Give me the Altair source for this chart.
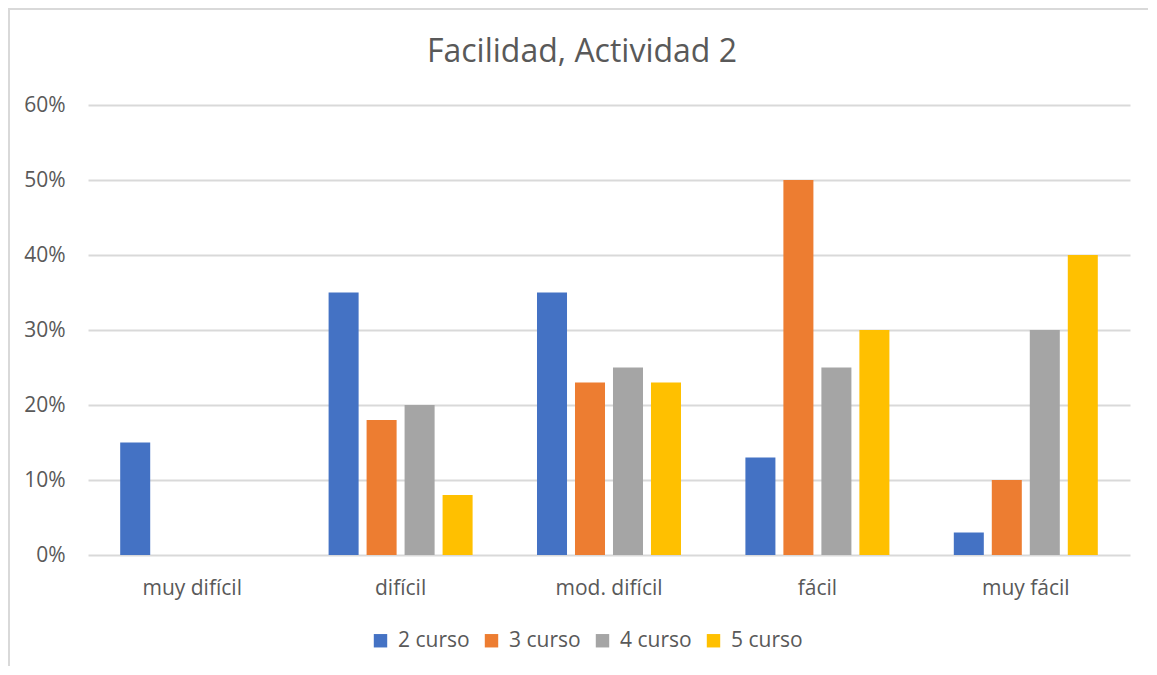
import altair as alt
import pandas as pd

categorias = ["muy difícil", "difícil", "mod. difícil", "fácil", "muy fácil"]
series = ["2 curso", "3 curso", "4 curso", "5 curso"]
v_2curso = [0.15, 0.35, 0.35, 0.13, 0.03]
v_3curso = [0.00, 0.18, 0.23, 0.50, 0.10]
v_4curso = [0.00, 0.20, 0.25, 0.25, 0.30]
v_5curso = [0.00, 0.08, 0.23, 0.30, 0.40]
colores = ["#4472C4", "#ED7D31", "#A5A5A5", "#FFC000"]
y_ticks = [0, 0.1, 0.2, 0.3, 0.4, 0.5, 0.6]
titulo = "Facilidad, Actividad 2"

valores = [v_2curso, v_3curso, v_4curso, v_5curso]
rows = []
for s, vals in zip(series, valores):
    for c, v in zip(categorias, vals):
        rows.append({"categoria": c, "serie": s, "valor": v})
df = pd.DataFrame(rows)

FONT = "Open Sans"
TXT = "#595959"
GRID = "#D9D9D9"

bars = alt.Chart(df).mark_bar().encode(
    x=alt.X("categoria:N", sort=categorias,
            scale=alt.Scale(paddingInner=0.309, paddingOuter=0.1545),
            axis=alt.Axis(title=None, labelAngle=0, domain=False, ticks=False, tickSize=0,
                          labelPadding=22, labelFontSize=21, labelColor=TXT, labelFont=FONT)),
    xOffset=alt.XOffset("serie:N", sort=series,
                        scale=alt.Scale(paddingInner=0.21, paddingOuter=0)),
    y=alt.Y("valor:Q", scale=alt.Scale(domain=[0, 0.6]),
            axis=alt.Axis(title=None, format="%", values=y_ticks, domain=False, ticks=False,
                          tickSize=0, labelPadding=23, labelFontSize=21, labelColor=TXT,
                          labelFont=FONT, grid=True, gridColor=GRID, gridWidth=2)),
    color=alt.Color("serie:N", sort=series,
                    scale=alt.Scale(domain=series, range=colores),
                    legend=alt.Legend(title=None, orient="none", direction="horizontal",
                                      legendX=282, legendY=525, padding=0,
                                      symbolType="square", symbolSize=180,
                                      symbolStrokeWidth=0, symbolOpacity=1,
                                      labelOffset=7, columnPadding=11,
                                      labelFontSize=21, labelColor=TXT, labelFont=FONT)),
)

border = alt.Chart(pd.DataFrame({"b": [0]})).mark_rect(
    fill=None, stroke=GRID, strokeWidth=2
).encode(
    x=alt.value(-79), x2=alt.value(1200), y=alt.value(-96), y2=alt.value(700)
)

title = alt.Chart(pd.DataFrame({"t": [titulo]})).mark_text(
    font=FONT, fontSize=32, color=TXT, align="center", baseline="alphabetic"
).encode(
    text="t:N", x=alt.value(494), y=alt.value(-43)
)

chart = alt.layer(border, bars, title).properties(
    width=1042, height=450,
    autosize=alt.AutoSizeParams(type="none"),
    padding={"left": 80, "top": 97, "right": 18, "bottom": 111},
).configure_view(stroke=None)

chart.save("out.html", embed_options={"renderer": "svg", "actions": False})
